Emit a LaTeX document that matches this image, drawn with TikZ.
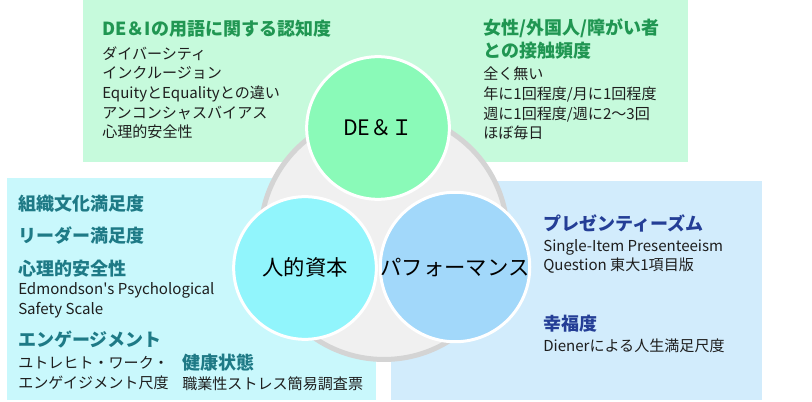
\documentclass[tikz,border=0pt]{standalone}
\usepackage{fontspec}
\setmainfont{Noto Sans CJK JP}
\usepackage{tikz}
\definecolor{HCMint}{RGB}{198,250,220}
\definecolor{HCGreen}{RGB}{138,250,184}
\definecolor{HCGreenText}{RGB}{32,150,82}
\definecolor{HCAqua}{RGB}{201,248,252}
\definecolor{HCCyan}{RGB}{145,245,252}
\definecolor{HCTealText}{RGB}{30,122,134}
\definecolor{HCSky}{RGB}{210,236,252}
\definecolor{HCBlue}{RGB}{162,216,250}
\definecolor{HCNavyText}{RGB}{36,62,150}
\definecolor{HCRing}{RGB}{212,212,212}
\definecolor{HCDisc}{RGB}{240,240,240}
\definecolor{HCInk}{RGB}{30,30,30}

\begin{document}
\begin{tikzpicture}[x=0.75pt, y=-0.75pt,
          head/.style={anchor=base west, align=left, inner sep=0pt,
                       font=\fontsize{13.5}{17.3}\selectfont\bfseries},
          body/.style={anchor=base west, align=left, inner sep=0pt,
                       text=HCInk, font=\fontsize{11.3}{14.8}\selectfont},
          pillar/.style={circle, draw=white, line width=2.25pt,
                         minimum size=107pt, inner sep=0pt, text=black,
                         text height=1.3em, text depth=0.1em,
                         font=\fontsize{16}{16}\selectfont}
        ]
        \useasboundingbox (0,0) rectangle (812,402);

        % Background panels
        \fill[HCMint] (83,0) rectangle (688,162);
        \fill[HCAqua] (7,178) rectangle (376,400);
        \fill[HCSky]  (391,181) rectangle (762,400);

        % Grey disc behind the three pillars
        \draw[HCRing, fill=HCDisc, line width=3.75pt]
              (384,236) circle (92.6pt);

        % Pillars
        \node[pillar, fill=HCGreen] (dei)   at (378,128) {DE＆Ｉ};
        \node[pillar, fill=HCCyan]  (human) at (305,268) {人的資本};
        \node[pillar, fill=HCBlue]  (perf)  at (455,267) {パフォーマンス};

        % DE&I panel (multi-line nodes sit on their last baseline)
        \node[head, text=HCGreenText] (termsHead) at (102,36)
              {DE＆Iの用語に関する認知度};
        \node[body] (termsList) at (102,138)
              {ダイバーシティ\\インクルージョン\\EquityとEqualityとの違い\\
               アンコンシャスバイアス\\心理的安全性};
        \node[head, text=HCGreenText] (contactHead) at (483,58)
              {女性/外国人/障がい者\\との接触頻度};
        \node[body] (contactList) at (483,139)
              {全く無い\\年に1回程度/月に1回程度\\週に1回程度/週に2～3回\\ほぼ毎日};

        % Human capital panel
        \node[head, text=HCTealText] (cultureHead) at (18,211) {組織文化満足度};
        \node[head, text=HCTealText] (leaderHead)  at (18,243) {リーダー満足度};
        \node[head, text=HCTealText] (safetyHead)  at (18,275) {心理的安全性};
        \node[body] (safetyScale) at (18,314)
              {Edmondson\textquotesingle s Psychological\\Safety Scale};
        \node[head, text=HCTealText] (engageHead)  at (18,346) {エンゲージメント};
        \node[body] (engageScale) at (18,388)
              {ユトレヒト・ワーク・\\エンゲイジメント尺度};
        \node[head, text=HCTealText] (healthHead)  at (182,369) {健康状態};
        \node[body] (healthScale) at (182,389) {職業性ストレス簡易調査票};

        % Performance panel
        \node[head, text=HCNavyText] (presHead) at (543,231) {プレゼンティーズム};
        \node[body] (presScale) at (543,271)
              {Single-Item Presenteeism\\Question 東大1項目版};
        \node[head, text=HCNavyText] (happyHead) at (543,330) {幸福度};
        \node[body] (happyScale) at (543,351) {Dienerによる人生満足尺度};
      \end{tikzpicture}
\end{document}
